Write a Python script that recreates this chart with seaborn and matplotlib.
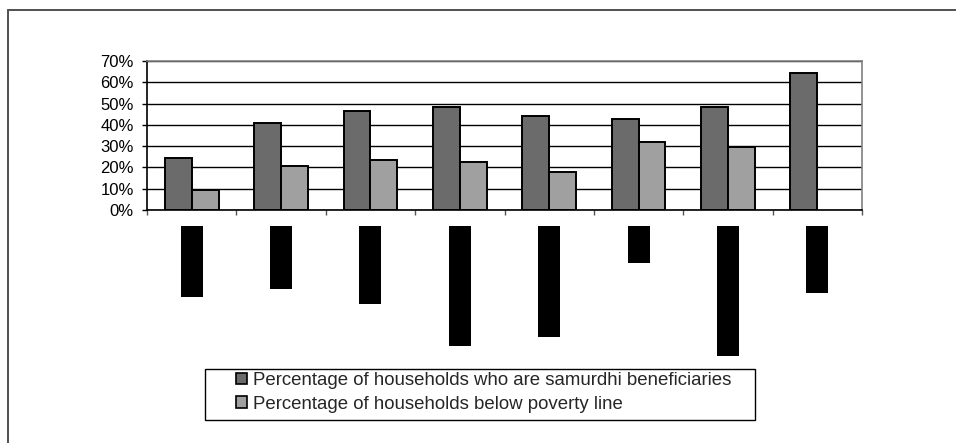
import numpy as np
import pandas as pd
import seaborn as sns
import matplotlib.pyplot as plt
from matplotlib.patches import Patch, Rectangle
from matplotlib.lines import Line2D
from matplotlib.ticker import FuncFormatter, FixedLocator

# Province-level shares (%)
regions = ["Western", "Central", "Southern", "North Western",
           "North Central", "Uva", "Sabaragamuwa", "Eastern"]
samurdhi_pct = [24.6, 40.8, 46.5, 48.4, 44.3, 42.6, 48.2, 64.2]
poverty_pct = [9.4, 20.8, 23.6, 22.7, 17.8, 32.1, 29.4, np.nan]
series_names = ["Percentage of households who are samurdhi beneficiaries",
                "Percentage of households below poverty line"]
y_ticks = [0, 10, 20, 30, 40, 50, 60, 70]

dark = "#6b6b6b"
light = "#a0a0a0"

df = pd.DataFrame({
    "region": regions * 2,
    "series": [series_names[0]] * len(regions) + [series_names[1]] * len(regions),
    "value": samurdhi_pct + poverty_pct,
}).dropna()

sns.set_style("white")
plt.rcParams["font.family"] = ["Liberation Sans", "DejaVu Sans"]

fig = plt.figure(figsize=(9.56, 4.43), dpi=100)
ax = fig.add_axes([147 / 956, 1 - 210 / 443, 715 / 956, 149 / 443])

sns.barplot(data=df, x="region", y="value", hue="series", order=regions,
            hue_order=series_names, palette=[dark, light], width=0.6,
            edgecolor="black", linewidth=1.4, saturation=1, ax=ax,
            legend=False, errorbar=None)

ax.set_xlim(-0.5, len(regions) - 0.5)
ax.set_ylim(0, 70)
ax.set_xlabel("")
ax.set_ylabel("")

# y axis: percent ticks and black gridlines
ax.yaxis.set_major_locator(FixedLocator(y_ticks))
ax.yaxis.set_major_formatter(FuncFormatter(lambda v, p: f"{v:.0f}%"))
ax.set_axisbelow(True)
ax.yaxis.grid(True, color="black", linewidth=1.0)
ax.tick_params(axis="y", which="major", left=True, length=3.6, width=1.0,
               color="black", pad=6.0, labelsize=12, labelcolor="black")

# x axis: ticks between groups, labels on black bands
ax.set_xticks(range(len(regions)))
ax.set_xticks(np.arange(-0.5, len(regions), 1.0), minor=True)
ax.tick_params(axis="x", which="major", bottom=True, length=0, pad=13.6)
ax.tick_params(axis="x", which="minor", bottom=True, length=3.6, width=1.0,
               color="#555555")
ax.set_xticklabels(regions, rotation=90, fontsize=12.8, color="black",
                   va="top", ha="center")
for lab in ax.get_xticklabels():
    lab.set_bbox(dict(facecolor="black", edgecolor="none", pad=1.8))

for side in ["left", "bottom"]:
    ax.spines[side].set_color("black")
    ax.spines[side].set_linewidth(1.2)
for side in ["top", "right"]:
    ax.spines[side].set_visible(True)
    ax.spines[side].set_color("#808080")
    ax.spines[side].set_linewidth(1.2)

# Legend
handles = [Patch(facecolor=dark, edgecolor="black", linewidth=1.2),
           Patch(facecolor=light, edgecolor="black", linewidth=1.2)]
fig.legend(handles, series_names, loc="upper left",
           bbox_to_anchor=(236 / 956, 1 - 372 / 443),
           bbox_transform=fig.transFigure, frameon=False, borderpad=0,
           fontsize=13.4, handlelength=0.6, handleheight=0.6,
           handletextpad=0.3, labelspacing=0.35, borderaxespad=0)
fig.add_artist(Rectangle((205 / 956, 1 - 420 / 443), 550 / 956, 51 / 443,
                         transform=fig.transFigure, fill=False,
                         edgecolor="black", linewidth=1.0))

# Outer chart frame
fig.add_artist(Line2D([8 / 956, 8 / 956], [0, 1 - 10 / 443],
                      transform=fig.transFigure, color="#505050", linewidth=1.4))
fig.add_artist(Line2D([8 / 956, 1], [1 - 10 / 443, 1 - 10 / 443],
                      transform=fig.transFigure, color="#505050", linewidth=1.4))

fig.savefig("out.png", dpi=100)
